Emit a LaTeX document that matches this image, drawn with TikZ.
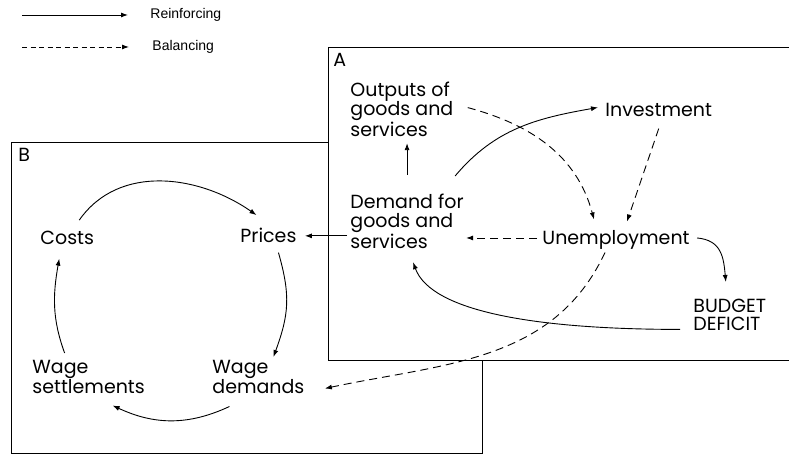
\documentclass[tikz,border=0pt]{standalone}
\usepackage{fontspec}
\newfontfamily\poppins{Poppins}
\newfontfamily\arial{Liberation Sans}
\usetikzlibrary{arrows.meta,calc}

\begin{document}
\begin{tikzpicture}[x=1pt,y=1pt,>={Latex[length=7pt,width=5pt]},line width=0.9pt,
  lbl/.style={font=\poppins\fontsize{19}{19}\selectfont,align=left,inner sep=0pt},
  legtext/.style={font=\arial\fontsize{14}{16}\selectfont,inner sep=0pt,anchor=west},
  bal/.style={dash pattern=on 8pt off 5pt},
  panel/.style={draw,fill=white,line width=0.7pt}]
\useasboundingbox (0,0) rectangle (789,455);
% legend
\coordinate (r0) at (22,440);
\coordinate (b0) at (22,408);
\node[legtext] (reinf) at (150,440) {Reinforcing};
\node[legtext] (balan) at (152,408) {Balancing};
\draw[->] (r0) -- ([xshift=-22pt]reinf.west);
\draw[->,dash pattern=on 5pt off 3.5pt] (b0) -- ([xshift=-23pt]balan.west);
% panels: B behind, A in front
\draw[panel] (11,2) rectangle (482,313);
\draw[panel] (789,408) -- (328,408) -- (328,95) -- (789,95);
\node[lbl,anchor=base west] (labA) at (333,388) {A};
\node[lbl,anchor=base west] (labB) at (18,293) {B};
% loop B: costs, prices, wages
\node[lbl,anchor=base west] (costs) at (40,210) {Costs};
\node[lbl,anchor=base west] (prices) at (240,212) {Prices};
\node[lbl,anchor=north west] (wsettle) at (32,95) {Wage\\settlements};
\node[lbl,anchor=north west] (wdemand) at (212,95) {Wage\\demands};
% block A: demand, output, jobs
\node[lbl,anchor=north west] (outputs) at (350,373) {Outputs of\\goods and\\services};
\node[lbl,anchor=north west] (demand) at (350,261) {Demand for\\goods and\\services};
\node[lbl,anchor=base west] (invest) at (605,338) {Investment};
\node[lbl,anchor=base west,text depth=0pt] (unemp) at (542,210) {Unemployment};
\node[lbl,anchor=north west,font=\poppins\fontsize{19}{18}\selectfont] (deficit) at (693,156) {BUDGET\\DEFICIT};
% reinforcing links
\draw[->] ([xshift=12pt,yshift=11pt]costs.north) to[out=55,in=145] ([xshift=-12pt,yshift=13pt]prices.north);
\draw[->] ([xshift=10pt,yshift=-9pt]prices.south) to[out=-74,in=70,looseness=1.1] ([xshift=15pt,yshift=3pt]wdemand.north);
\draw[->] ([xshift=-29pt,yshift=-12pt]wdemand.south) to[out=-155,in=-25] ([xshift=24pt,yshift=-11pt]wsettle.south);
\draw[->] ([xshift=-24pt,yshift=7pt]wsettle.north) to[out=110,in=-100] ([xshift=-8pt,yshift=-13pt]costs.south);
\draw[->] ($(demand.west |- prices.east)+(-3,0)$) -- ([xshift=8pt]prices.east);
\draw[->] ([yshift=19pt]demand.north) -- ($(demand.north |- outputs.south)+(0,-6)$);
\draw[->] ([xshift=-9pt,yshift=18pt]demand.north east) to[out=50,in=190] ([xshift=-7pt,yshift=3pt]invest.west);
\draw[->] ([xshift=7pt]unemp.east) to[out=-5,in=95,looseness=1.2] ([xshift=-4pt,yshift=17pt]deficit.north);
\draw[->] ([xshift=-13pt,yshift=2pt]deficit.south west) to[out=180,in=-70,out looseness=1.3,in looseness=0.5] ([xshift=6pt,yshift=-13pt]demand.south);
% balancing links
\draw[->,bal] ([xshift=14pt,yshift=2pt]outputs.east) to[out=-15,in=105] ([xshift=-22pt,yshift=11pt]unemp.north);
\draw[->,bal] ([yshift=-11pt]invest.south) -- ([xshift=11pt,yshift=9pt]unemp.north);
\draw[->,bal] ([xshift=-5pt]unemp.west) -- ($(unemp.west -| demand.east)+(2,0)$);
\draw[->,bal] ([xshift=-11pt,yshift=-7pt]unemp.south) to[out=-115,in=12] ([xshift=20pt,yshift=6pt]wdemand.south east);
\end{tikzpicture}
\end{document}
